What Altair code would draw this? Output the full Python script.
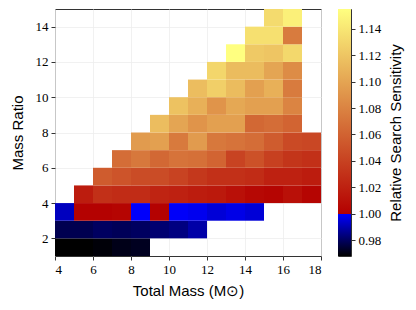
import altair as alt
import pandas as pd

# lower edges of the bins
mass_bins = list(range(4, 18))   # total mass 4..17 (bin width 1)
ratio_bins = list(range(1, 15))  # mass ratio 1..14 (bin height 1)

N = None
# relative search sensitivity, one list per mass-ratio row (bottom -> top), columns mass 4..17
sens_q1 = [0.968, 0.968, 0.969, 0.971, 0.972, N, N, N, N, N, N, N, N, N]
sens_q2 = [0.978, 0.978, 0.980, 0.979, 0.980, 0.982, 0.984, 0.989, N, N, N, N, N, N]
sens_q3 = [0.992, 1.001, 1.001, 1.003, 0.9995, 1.001, 0.9993, 0.998, 0.995, 0.997, 0.995, N, N, N]
sens_q4 = [N, 1.017, 1.029, 1.027, 1.027, 1.022, 1.020, 1.017, 1.015, 1.010, 1.005, 1.003, 1.010, 1.003]
sens_q5 = [N, N, 1.056, 1.051, 1.046, 1.046, 1.041, 1.034, 1.029, 1.029, 1.027, 1.020, 1.020, 1.017]
sens_q6 = [N, N, N, 1.066, 1.073, 1.063, 1.070, 1.068, 1.061, 1.041, 1.049, 1.039, 1.032, 1.029]
sens_q7 = [N, N, N, N, 1.094, 1.097, 1.074, 1.094, 1.073, 1.070, 1.066, 1.056, 1.045, 1.043]
sens_q8 = [N, N, N, N, N, 1.115, 1.100, 1.090, 1.097, 1.097, 1.063, 1.066, 1.061, N]
sens_q9 = [N, N, N, N, N, N, 1.118, 1.107, 1.090, 1.102, 1.097, 1.097, 1.080, N]
sens_q10 = [N, N, N, N, N, N, N, 1.115, 1.126, 1.114, 1.097, 1.107, 1.075, N]
sens_q11 = [N, N, N, N, N, N, N, N, 1.130, 1.114, 1.114, 1.100, 1.085, N]
sens_q12 = [N, N, N, N, N, N, N, N, N, 1.155, 1.122, 1.120, 1.131, N]
sens_q13 = [N, N, N, N, N, N, N, N, N, N, 1.136, 1.136, 1.075, N]
sens_q14 = [N, N, N, N, N, N, N, N, N, N, N, 1.133, 1.146, N]

rows = [sens_q1, sens_q2, sens_q3, sens_q4, sens_q5, sens_q6, sens_q7,
        sens_q8, sens_q9, sens_q10, sens_q11, sens_q12, sens_q13, sens_q14]

x_ticks = [4, 6, 8, 10, 12, 14, 16, 18]
y_ticks = [2, 4, 6, 8, 10, 12, 14]
cbar_ticks = [0.98, 1.00, 1.02, 1.04, 1.06, 1.08, 1.10, 1.12, 1.14]
vmin, vbreak, vmax = 0.968, 1.0, 1.155
cmap_colors = ["#000000", "#0000ff", "#b40000", "#ffff80"]

recs = []
for q, row in zip(ratio_bins, rows):
    for m, v in zip(mass_bins, row):
        if v is not None:
            recs.append({"m": m, "m2": m + 1, "q": q, "q2": q + 1, "s": v})
df = pd.DataFrame(recs)

SERIF = "Liberation Serif, Times New Roman, serif"
SANS = "Liberation Sans, Arial, sans-serif"

axis_common = dict(labelFont=SERIF, labelFontSize=13, labelColor="black",
                   tickColor="#333333", tickSize=4, domain=False,
                   titleFont=SANS, titleFontSize=15, titleFontWeight="normal",
                   titleColor="black")

heat = alt.Chart(df).mark_rect().encode(
    x=alt.X("m:Q", scale=alt.Scale(domain=[4, 18], nice=False, zero=False),
            axis=alt.Axis(values=x_ticks, title="Total Mass (M\u2299)",
                          gridColor="#eeeeee", gridWidth=0.8,
                          labelPadding=3, titlePadding=7, **axis_common)),
    x2="m2:Q",
    y=alt.Y("q:Q", scale=alt.Scale(domain=[1, 15], nice=False, zero=False),
            axis=alt.Axis(values=y_ticks, title="Mass Ratio",
                          gridColor="#eeeeee", gridWidth=0.8,
                          labelPadding=3, titlePadding=10, **axis_common)),
    y2="q2:Q",
    color=alt.Color("s:Q", legend=None,
                    scale=alt.Scale(domain=[vmin, vbreak - 1e-5, vbreak, vmax],
                                    range=cmap_colors, interpolate="rgb",
                                    clamp=True)),
).properties(width=266, height=247)

f1 = (vbreak - vmin) / (vmax - vmin)
grad = alt.Gradient(
    gradient="linear", x1=0, y1=1, x2=0, y2=0,
    stops=[alt.GradientStop(offset=0, color=cmap_colors[0]),
           alt.GradientStop(offset=f1, color=cmap_colors[1]),
           alt.GradientStop(offset=f1, color=cmap_colors[2]),
           alt.GradientStop(offset=1, color=cmap_colors[3])])

cb_df = pd.DataFrame({"lo": [vmin], "hi": [vmax]})
cbar = alt.Chart(cb_df).mark_rect(fill=grad).encode(
    x=alt.value(0), x2=alt.value(13),
    y=alt.Y("lo:Q", scale=alt.Scale(domain=[vmin, vmax], nice=False, zero=False),
            axis=alt.Axis(orient="right", values=cbar_ticks, format=".2f",
                          grid=False, title="Relative Search Sensitivity",
                          titleAngle=270, titleBaseline="top",
                          labelPadding=3, titlePadding=8, **axis_common)),
    y2="hi:Q",
).properties(width=13, height=247)

chart = alt.hconcat(heat, cbar, spacing=15).properties(
    padding={"left": 1, "top": 0, "right": 0, "bottom": 0}
).configure_view(stroke="#333333", strokeWidth=1)

chart.save("out.html", embed_options={"renderer": "svg", "actions": False})
